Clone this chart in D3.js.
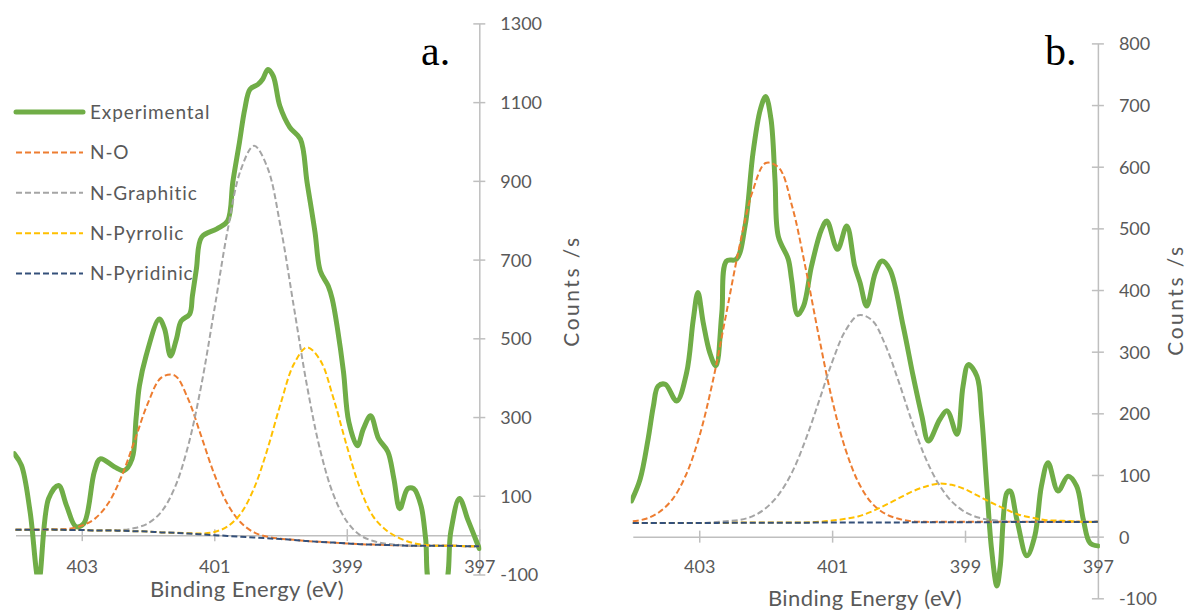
<!DOCTYPE html>
<html><head><meta charset="utf-8">
<script src="https://cdn.jsdelivr.net/npm/d3@7"></script>
<style>body{margin:0;background:#fff;} svg{display:block;}</style>
</head><body>
<svg id="chart" width="1186" height="610"></svg>
<script>
// ---------- shared ----------
const seriesNames = ["Experimental", "N-O", "N-Graphitic", "N-Pyrrolic", "N-Pyridinic"];
const xTicks = [403, 401, 399, 397];
const energyGrid = [404.0,403.8,403.6,403.4,403.2,403.0,402.8,402.6,402.4,402.2,402.0,401.8,401.6,401.4,401.2,401.0,400.8,400.6,400.4,400.2,400.0,399.8,399.6,399.4,399.2,399.0,398.8,398.6,398.4,398.2,398.0,397.8,397.6,397.4,397.2,397.0];

// ---------- panel a ----------
const aYTicks = [1300, 1100, 900, 700, 500, 300, 100, -100];
const aExpEnergy = [404.02,403.91,403.78,403.65,403.50,403.35,403.23,403.09,402.97,402.81,402.72,402.51,402.36,402.24,402.18,402.13,402.03,401.83,401.75,401.66,401.57,401.50,401.37,401.33,401.27,401.19,400.96,400.80,400.72,400.62,400.54,400.46,400.34,400.27,400.19,400.11,400.01,399.86,399.70,399.60,399.48,399.40,399.28,399.22,399.14,399.05,398.97,398.84,398.75,398.64,398.52,398.38,398.29,398.20,398.08,397.99,397.88,397.81,397.73,397.53,397.43,397.30,397.17,397.08,397.00];
const aExpCounts = [207,177,60,-115,93,126,75,22,29,161,194,174,164,194,296,379,455,549,524,455,499,544,562,608,676,757,778,798,897,998,1082,1133,1145,1158,1183,1166,1090,1036,1006,897,770,671,633,600,524,415,288,227,270,303,245,212,144,67,118,118,75,-9,-130,-130,9,93,38,0,-34];
const aNO        = [14,14,14,15,16,24,42,81,149,241,336,400,406,348,253,155,79,32,7,-4,-9,-12,-15,-17,-19,-21,-23,-24,-25,-26,-27,-27,-27,-27,-28,-28];
const aNGraphitic= [14,14,14,14,13,13,12,13,13,18,30,59,119,223,377,572,773,928,989,935,784,581,379,215,102,35,0,-15,-22,-25,-27,-27,-27,-27,-28,-28];
const aNPyrrolic = [14,14,14,14,13,13,12,12,11,10,9,7,6,5,4,8,22,55,119,217,333,434,477,444,347,227,119,47,12,-8,-20,-25,-27,-27,-28,-28];
const aNPyridinic= [14,14,14,14,13,13,12,12,11,10,9,7,6,4,2,0,-2,-4,-6,-8,-10,-12,-15,-17,-19,-21,-23,-24,-25,-26,-27,-27,-27,-27,-28,-28];

// ---------- panel b ----------
const bYTicks = [800, 700, 600, 500, 400, 300, 200, 100, 0, -100];
const bExpEnergy = [404.02,403.89,403.77,403.69,403.62,403.51,403.34,403.19,403.09,403.02,402.94,402.84,402.75,402.66,402.59,402.44,402.31,402.19,402.08,402.00,401.92,401.86,401.81,401.66,401.61,401.52,401.43,401.31,401.16,401.08,400.92,400.78,400.66,400.58,400.48,400.35,400.25,400.13,399.93,399.78,399.65,399.55,399.38,399.27,399.12,399.03,398.95,398.82,398.75,398.67,398.60,398.52,398.47,398.37,398.32,398.22,398.07,397.95,397.85,397.75,397.60,397.45,397.32,397.22,397.12,397.00];
const bExpCounts = [58,93,158,212,244,247,220,266,352,396,347,298,277,363,447,450,504,623,693,714,677,579,487,450,417,360,374,439,498,512,466,504,439,412,374,428,447,433,341,260,196,155,190,204,166,244,279,260,196,77,-21,-80,-48,71,74,28,-31,1,82,120,74,98,82,28,-10,-15];
const bNO        = [25,29,40,61,100,162,250,358,468,559,606,598,535,436,325,222,142,87,54,37,29,25,24,24,24,24,24,24,24,24,24,24,24,24,24,24];
const bNGraphitic= [22,22,22,22,22,22,23,25,27,33,46,69,105,157,219,283,334,359,351,311,252,187,129,86,57,40,31,27,25,24,24,24,24,24,24,24];
const bNPyrrolic = [22,22,22,22,22,22,22,22,23,23,23,23,23,23,24,26,29,33,41,51,62,73,81,86,84,77,66,55,45,36,31,27,26,25,24,24];
const bNPyridinic= [22.0,22.1,22.1,22.2,22.2,22.3,22.3,22.4,22.5,22.5,22.6,22.6,22.7,22.7,22.8,22.9,22.9,23.0,23.0,23.1,23.1,23.2,23.3,23.3,23.4,23.4,23.5,23.5,23.6,23.7,23.7,23.8,23.8,23.9,23.9,24.0];

// ---------- styles ----------
const colors = {"Experimental":"#70AD47","N-O":"#ED7D31","N-Graphitic":"#A5A5A5","N-Pyrrolic":"#FFC000","N-Pyridinic":"#34507A"};
const FONT = "Lato, 'Open Sans', sans-serif";
const TXT = "#595959";
const AXC = "#BFBFBF";
const fmt = d => String(d); // plain hyphen-minus as in the reference

const svg = d3.select("#chart");

function drawPanel(p) {
  const x = d3.scaleLinear().domain([404, 397]).range([p.x0, p.x1]);
  const y = d3.scaleLinear().domain([p.yMin, p.yMax]).range([p.yb, p.yt]);
  const g = svg.append("g");

  const clipId = "clip" + p.id;
  svg.append("defs").append("clipPath").attr("id", clipId)
    .append("rect").attr("x", p.x0 - 2).attr("y", p.yt).attr("width", p.x1 - p.x0 + 4).attr("height", p.yb - p.yt);

  // y axis at right
  const ya = g.append("g").attr("transform", `translate(${p.x1},0)`)
    .call(d3.axisRight(y).tickValues(p.yTicks).tickSizeInner(6).tickSizeOuter(0).tickPadding(15).tickFormat(fmt));
  ya.select(".domain").attr("stroke", AXC).attr("stroke-width", 1.5);
  ya.selectAll(".tick line").attr("x1", -6).attr("x2", 6).attr("stroke", AXC).attr("stroke-width", 1.5);
  ya.selectAll(".tick text").attr("fill", TXT).style("font-family", FONT).style("font-size", "18px").attr("dy", "0.36em");

  // x axis at y = 0
  const xa = g.append("g").attr("transform", `translate(0,${y(0)})`)
    .call(d3.axisBottom(x).tickValues(xTicks).tickSizeInner(6).tickSizeOuter(0).tickFormat(fmt));
  xa.select(".domain").attr("stroke", AXC).attr("stroke-width", 1.5);
  xa.selectAll(".tick line").attr("y1", -6).attr("y2", 6).attr("stroke", AXC).attr("stroke-width", 1.5);
  xa.selectAll(".tick text").attr("fill", TXT).style("font-family", FONT).style("font-size", "18px")
    .attr("y", p.xLabelY - y(0)).attr("dy", "0.36em");

  const line = d3.line().x(d => x(d[0])).y(d => y(d[1])).curve(d3.curveCatmullRom.alpha(0.5));
  const plot = g.append("g").attr("clip-path", `url(#${clipId})`);

  plot.append("path").datum(d3.zip(p.expE, p.expC))
    .attr("d", line).attr("fill", "none").attr("stroke", colors["Experimental"])
    .attr("stroke-width", 5).attr("stroke-linejoin", "round").attr("stroke-linecap", "round");

  const comps = [["N-O", p.no], ["N-Graphitic", p.ng], ["N-Pyrrolic", p.npy], ["N-Pyridinic", p.npd]];
  comps.forEach(([name, vals]) => {
    plot.append("path").datum(d3.zip(energyGrid, vals))
      .attr("d", line).attr("fill", "none").attr("stroke", colors[name])
      .attr("stroke-width", 2).attr("stroke-dasharray", "6,3");
  });

  // titles
  g.append("text").attr("x", p.xTitleX).attr("y", p.xTitleY).attr("dy", "0.36em")
    .attr("text-anchor", "middle").attr("fill", TXT).style("font-family", FONT).style("font-size", "22px")
    .style("letter-spacing", "0.4px").text("Binding Energy (eV)");
  g.append("text").attr("transform", `translate(${p.yTitleX},${p.yTitleY}) rotate(-90)`).attr("dy", "0.36em")
    .attr("text-anchor", "middle").attr("fill", TXT).style("font-family", FONT).style("font-size", "21px")
    .style("letter-spacing", "2.5px").text("Counts /s");
  g.append("text").attr("x", p.tagX).attr("y", p.tagY).attr("fill", "#000")
    .style("font-family", "'Liberation Serif', 'Times New Roman', serif").style("font-size", "42px").text(p.tag);
  return {x, y};
}

drawPanel({id: "a", x0: 15.5, x1: 479.3, yMin: -100, yMax: 1300, yb: 574.5, yt: 23.4, yTicks: aYTicks,
  expE: aExpEnergy, expC: aExpCounts, no: aNO, ng: aNGraphitic, npy: aNPyrrolic, npd: aNPyridinic,
  xLabelY: 566.7, xTitleX: 247, xTitleY: 589, yTitleX: 571, yTitleY: 291, tag: "a.", tagX: 421, tagY: 65});

drawPanel({id: "b", x0: 632.8, x1: 1097.9, yMin: -100, yMax: 800, yb: 598.3, yt: 43.4, yTicks: bYTicks,
  expE: bExpEnergy, expC: bExpCounts, no: bNO, ng: bNGraphitic, npy: bNPyrrolic, npd: bNPyridinic,
  xLabelY: 566.7, xTitleX: 865, xTitleY: 598, yTitleX: 1175, yTitleY: 300, tag: "b.", tagX: 1045, tagY: 65});

// legend (panel a)
const leg = svg.append("g");
seriesNames.forEach((name, i) => {
  const yy = 112 + i * 40.4;
  leg.append("line").attr("x1", 16).attr("x2", 83).attr("y1", yy).attr("y2", yy)
    .attr("stroke", colors[name]).attr("stroke-width", i === 0 ? 5 : 2)
    .attr("stroke-dasharray", i === 0 ? null : "6,3").attr("stroke-linecap", i === 0 ? "round" : "butt");
  leg.append("text").attr("x", 90).attr("y", yy).attr("dy", "0.36em").attr("fill", TXT)
    .style("font-family", FONT).style("font-size", "19px").style("letter-spacing", "0.9px").text(name);
});
</script>
</body></html>
